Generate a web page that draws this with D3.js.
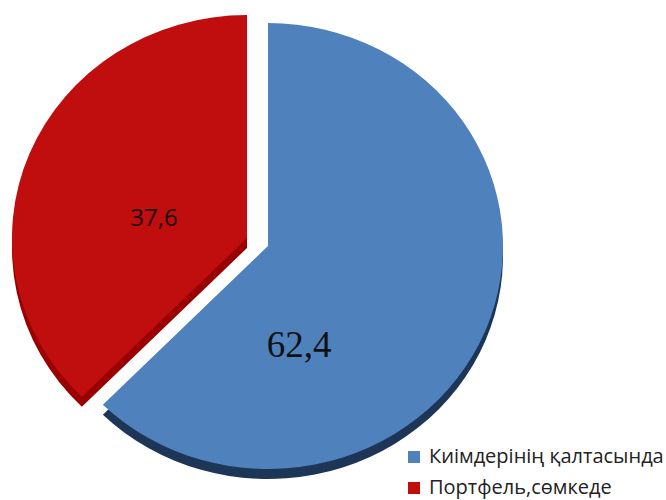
<!DOCTYPE html>
<html>
<head>
<meta charset="utf-8">
<script src="https://cdn.jsdelivr.net/npm/d3@7"></script>
<style>
  body { margin: 0; background: #fff; }
  svg { display: block; }
</style>
</head>
<body>
<div id="chart"></div>
<script>
var categories = ["Киімдерінің қалтасында", "Портфель,сөмкеде"];
var values = [62.4, 37.6];
var valueLabels = ["62,4", "37,6"];
var colors = ["#4f81bd", "#c00d0d"];
var sideColors = ["#1d3556", "#9a0000"];

var width = 666, height = 500;
var cx = 268, cy = 246, rx = 235, ry = 223, depth = 10;

var svg = d3.select("#chart").append("svg")
    .attr("width", width)
    .attr("height", height);

var pie = d3.pie().sort(null).value(function(d) { return d; });
var arcs = pie(values);
var arc = d3.arc().innerRadius(0).outerRadius(rx);

// red slice pulled out to the upper left
var offsets = [[0, 0], [-21, -8]];

function place(i, dy) {
  return "translate(" + (cx + offsets[i][0]) + "," + (cy + offsets[i][1] + dy) + ") scale(1," + (ry / rx) + ")";
}

// side (thickness) first
svg.selectAll(".side")
  .data(arcs)
  .enter().append("path")
    .attr("class", "side")
    .attr("d", arc)
    .attr("fill", function(d, i) { return sideColors[i]; })
    .attr("transform", function(d, i) { return place(i, depth); });

svg.selectAll(".face")
  .data(arcs)
  .enter().append("path")
    .attr("class", "face")
    .attr("d", arc)
    .attr("fill", function(d, i) { return colors[i]; })
    .attr("transform", function(d, i) { return place(i, 0); });

// value labels
svg.append("text")
  .attr("x", 299).attr("y", 357)
  .attr("text-anchor", "middle")
  .style("font-family", "'Liberation Serif', 'DejaVu Serif', serif")
  .style("font-size", "37px")
  .style("fill", "#111")
  .text(valueLabels[0]);

svg.append("text")
  .attr("x", 154).attr("y", 226)
  .attr("text-anchor", "middle")
  .style("font-family", "'Open Sans', sans-serif")
  .style("font-size", "24px")
  .style("fill", "#1a0a0a")
  .text(valueLabels[1]);

// legend
var legend = svg.selectAll(".legend")
  .data(categories)
  .enter().append("g")
    .attr("class", "legend")
    .attr("transform", function(d, i) { return "translate(408," + (451 + i * 31) + ")"; });

legend.append("rect")
  .attr("width", 12).attr("height", 12)
  .attr("fill", function(d, i) { return colors[i]; });

legend.append("text")
  .attr("x", 21).attr("y", 12)
  .style("font-family", "'Open Sans', sans-serif")
  .style("font-size", "20px")
  .style("fill", "#222")
  .text(function(d) { return d; });
</script>
</body>
</html>
